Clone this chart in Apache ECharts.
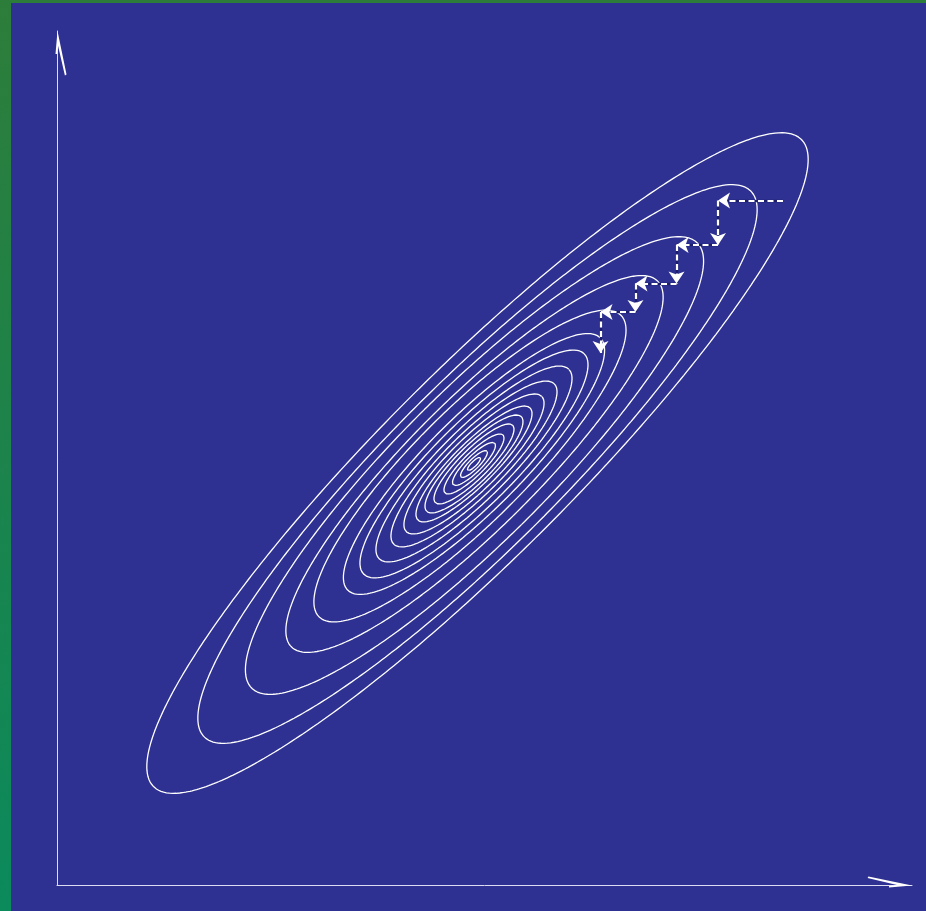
<!DOCTYPE html>
<html>
<head>
<meta charset="utf-8">
<script src="https://cdn.jsdelivr.net/npm/echarts@6/dist/echarts.min.js"></script>
<style>
  html, body { margin: 0; padding: 0; background: #2E3192; }
  #chart { width: 926px; height: 911px; }
</style>
</head>
<body>
<div id="chart"></div>
<script>
// Elliptical contour lines, outermost first (data units).
// Each contour: centre (x, y), semi-major and semi-minor axis, tilted 45 degrees.
const contourCenterX = [4.918, 4.918, 4.883, 4.883, 4.830, 4.877, 4.877, 4.877, 4.877,
  4.877, 4.877, 4.877, 4.877, 4.877, 4.877, 4.877, 4.877];
const contourCenterY = [4.941, 4.930, 4.912, 4.930, 4.906, 4.930, 4.930, 4.930, 4.930,
  4.930, 4.930, 4.930, 4.930, 4.930, 4.930, 4.930, 4.930];
const contourMajor = [5.358, 4.520, 3.686, 3.029, 2.497, 2.089, 1.824, 1.569, 1.328,
  1.120, 0.928, 0.783, 0.640, 0.480, 0.343, 0.215, 0.105];
const contourMinor = [1.100, 0.983, 0.878, 0.749, 0.655, 0.550, 0.480, 0.410, 0.351,
  0.298, 0.246, 0.211, 0.170, 0.129, 0.094, 0.059, 0.030];
const contourTiltDeg = 45;

// Coordinate-descent path: alternating moves along x then y
const descentX = [8.491, 7.731, 7.731, 7.246, 7.246, 6.766, 6.766, 6.357, 6.357];
const descentY = [8.015, 8.015, 7.494, 7.494, 7.043, 7.043, 6.710, 6.710, 6.230];

const axisMax = 10;

// Sample one tilted ellipse as a closed polyline
function ellipsePoints(cx, cy, a, b, tiltDeg, steps) {
  const th = tiltDeg * Math.PI / 180;
  const ct = Math.cos(th), st = Math.sin(th);
  const pts = [];
  for (let i = 0; i <= steps; i++) {
    const t = (i / steps) * Math.PI * 2;
    const u = a * Math.cos(t), v = b * Math.sin(t);
    pts.push([cx + u * ct - v * st, cy + u * st + v * ct]);
  }
  return pts;
}

const contourSeries = contourMajor.map((a, i) => ({
  type: 'line',
  data: ellipsePoints(contourCenterX[i], contourCenterY[i], a, contourMinor[i], contourTiltDeg, 480),
  showSymbol: false,
  symbol: 'none',
  silent: true,
  lineStyle: { color: '#ffffff', width: 1.3 },
  z: 3
}));

const descentSegments = [];
for (let i = 0; i < descentX.length - 1; i++) {
  descentSegments.push({ coords: [[descentX[i], descentY[i]], [descentX[i + 1], descentY[i + 1]]] });
}

const chart = echarts.init(document.getElementById('chart'), null, { renderer: 'canvas' });

const bareAxis = {
  type: 'value', min: 0, max: axisMax,
  axisLine: { show: true, lineStyle: { color: '#dcdcf2', width: 1 } },
  axisTick: { show: false },
  axisLabel: { show: false },
  splitLine: { show: false }
};

chart.setOption({
  backgroundColor: '#2E3192',
  animation: false,
  grid: { left: 57, right: 14, top: 31, bottom: 26 },
  xAxis: Object.assign({}, bareAxis),
  yAxis: Object.assign({}, bareAxis),
  series: contourSeries.concat([
    {
      type: 'lines',
      coordinateSystem: 'cartesian2d',
      silent: true,
      data: descentSegments,
      symbol: ['none', 'none'],
      lineStyle: { color: '#1c1e6c', width: 2.4, opacity: 1 },
      z: 4
    },
    {
      type: 'lines',
      coordinateSystem: 'cartesian2d',
      silent: true,
      data: descentSegments,
      symbol: ['none', 'arrow'],
      symbolSize: [7, 12],
      lineStyle: { color: '#ffffff', width: 2.2, type: [6, 3.5], opacity: 1 },
      z: 5
    }
  ])
});

// Half-arrow (harpoon) heads at the ends of both axes
function harpoon(tip, dirBack, side) {
  // a = distance back from the tip along the axis, s = offset towards the barb side
  const shape = [[0, 0], [43.6, 9.0], [44.4, 7.4], [15, 0.6], [23, -0.4], [23, -2.0]];
  return shape.map(([a, s]) => [tip[0] + dirBack[0] * a + side[0] * s,
                                tip[1] + dirBack[1] * a + side[1] * s]);
}

const xEnd = chart.convertToPixel({ gridIndex: 0 }, [axisMax, 0]);
const yEnd = chart.convertToPixel({ gridIndex: 0 }, [0, axisMax]);

chart.setOption({
  graphic: [
    {
      type: 'rect', z: 100,
      shape: { x: 0, y: 0, width: 11, height: 911 },
      style: { fill: new echarts.graphic.LinearGradient(0, 0, 0, 1, [
        { offset: 0, color: '#2d7d3a' }, { offset: 1, color: '#0b8a5c' }]) }
    },
    {
      type: 'rect', z: 100,
      shape: { x: 0, y: 0, width: 926, height: 3 },
      style: { fill: '#2d7d3a' }
    },
    {
      type: 'polygon', z: 90,
      shape: { points: harpoon([yEnd[0] + 0.5, yEnd[1]], [0, 1], [1, 0]) },
      style: { fill: '#ffffff' }
    },
    {
      type: 'polygon', z: 90,
      shape: { points: harpoon([xEnd[0], xEnd[1] + 0.5], [-1, 0], [0, -1]) },
      style: { fill: '#ffffff' }
    }
  ]
});
</script>
</body>
</html>
